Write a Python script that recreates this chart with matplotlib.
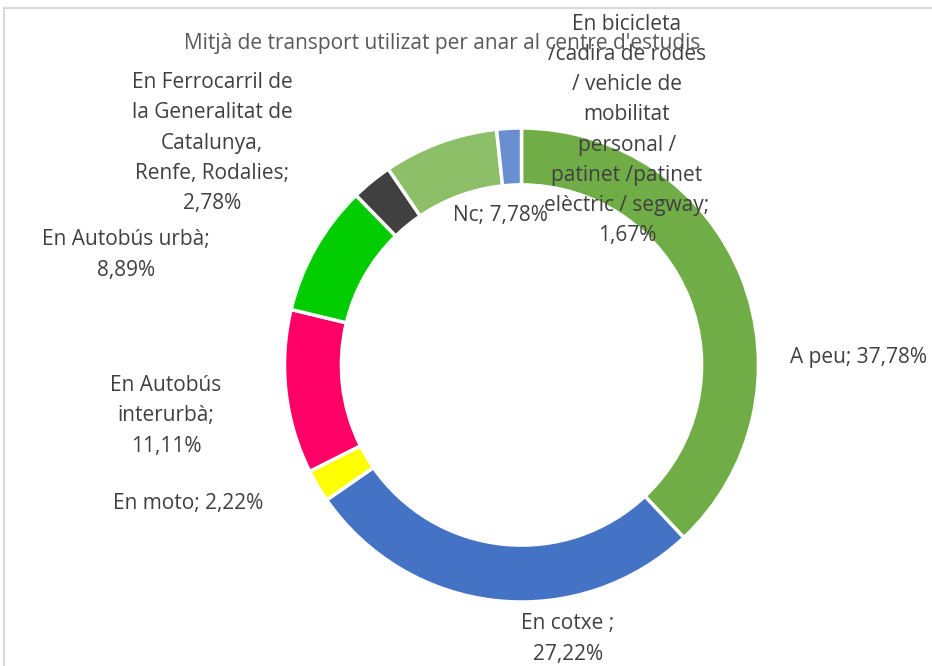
import matplotlib.pyplot as plt

# data (clockwise from 12 o'clock)
labels = ["A peu", "En cotxe ", "En moto", "En Autobús interurbà", "En Autobús urbà",
          "En Ferrocarril de la Generalitat de Catalunya, Renfe, Rodalies",
          "Nc", "En bicicleta /cadira de rodes / vehicle de mobilitat personal / patinet /patinet elèctric / segway"]
values = [37.78, 27.22, 2.22, 11.11, 8.89, 2.78, 7.78, 1.67]
colors = ["#70AD47", "#4472C4", "#FFFF00", "#FF0066", "#00CC00", "#404040", "#8CBF68", "#6A8FD1"]

# label text as shown in the chart (wrapped by hand like the original)
label_text = [
    "A peu; 37,78%",
    "En cotxe ;\n27,22%",
    "En moto; 2,22%",
    "En Autobús\ninterurbà;\n11,11%",
    "En Autobús urbà;\n8,89%",
    "En Ferrocarril de\nla Generalitat de\nCatalunya,\nRenfe, Rodalies;\n2,78%",
    "Nc; 7,78%",
    "En bicicleta\n/cadira de rodes\n/ vehicle de\nmobilitat\npersonal /\npatinet /patinet\nelèctric / segway;\n1,67%",
]
label_pos = [(858, 358), (568, 639), (188, 504), (166, 416), (126, 255),
             (212, 143), (500, 216), (627, 130)]

W, H = 932, 666
fig = plt.figure(figsize=(W / 100, H / 100), dpi=100)
ax = fig.add_axes([0, 0, 1, 1])

cx, cy, r = 521.5, H - 365, 237
ax.pie(values, colors=colors, startangle=90, counterclock=False,
       center=(cx, cy), radius=r, frame=True,
       wedgeprops=dict(width=r * 0.24, edgecolor="white", linewidth=2.5))
ax.set_xlim(0, W)
ax.set_ylim(0, H)
ax.set_aspect("equal")
ax.axis("off")

font = "Open Sans"
for txt, (x, y) in zip(label_text, label_pos):
    ax.text(x, H - y, txt, ha="center", va="center", fontsize=15, color="#404040",
            family=font, linespacing=1.58)

ax.text(442, H - 43, "Mitjà de transport utilizat per anar al centre d'estudis",
        ha="center", va="center", fontsize=15, color="#595959", family=font)

# thin chart border (top and left visible)
ax.plot([4, W], [H - 8, H - 8], color="#D9D9D9", lw=1.5)
ax.plot([4, 4], [0, H - 8], color="#D9D9D9", lw=1.5)

fig.savefig("out.png", dpi=100)
